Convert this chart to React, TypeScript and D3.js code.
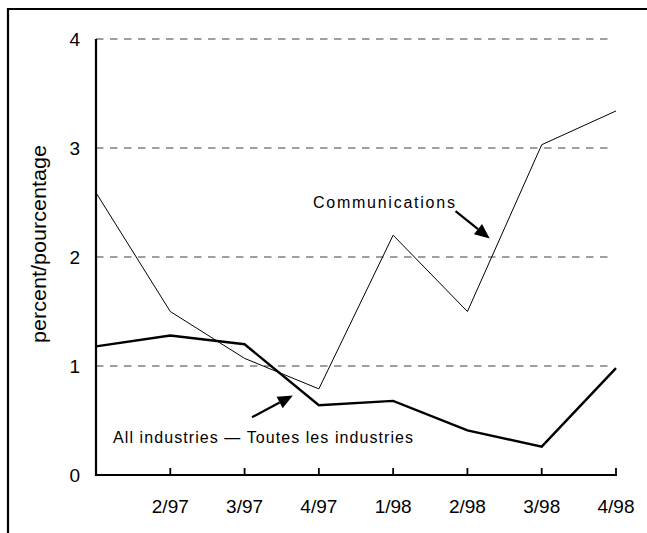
import React from "react";
import * as d3 from "d3";

const categories = ["1/97", "2/97", "3/97", "4/97", "1/98", "2/98", "3/98", "4/98"];
const tickLabels = ["", "2/97", "3/97", "4/97", "1/98", "2/98", "3/98", "4/98"];
const communications = [2.59, 1.5, 1.07, 0.79, 2.2, 1.5, 3.03, 3.34];
const allIndustries = [1.18, 1.28, 1.2, 0.64, 0.68, 0.41, 0.26, 0.98];
const yTicks = [0, 1, 2, 3, 4];
const gridValues = [1, 2, 3, 4];

// annotation anchors in data space: [fractional category index, value]
const commLabel = { text: "Communications", at: [2.92, 2.45] };
const commArrow = { from: [4.84, 2.42], to: [5.3, 2.17] };
const allLabel = { text: "All industries \u2014 Toutes les industries", at: [0.23, 0.29] };
const allArrow = { from: [2.1, 0.53], to: [2.65, 0.73] };

const W = 647;
const H = 533;
const X0 = 96;
const X1 = 616;
const Y0 = 475;
const Y4 = 39;
const FONT = "'Liberation Sans', Arial, sans-serif";

function Arrow({ x1, y1, x2, y2 }: { x1: number; y1: number; x2: number; y2: number }) {
  const ang = Math.atan2(y2 - y1, x2 - x1);
  const len = 15;
  const half = 6.5;
  const bx = x2 - len * Math.cos(ang);
  const by = y2 - len * Math.sin(ang);
  const px = -Math.sin(ang) * half;
  const py = Math.cos(ang) * half;
  return (
    <g>
      <line x1={x1} y1={y1} x2={bx} y2={by} stroke="#000" strokeWidth={2.2} />
      <polygon points={`${x2},${y2} ${bx + px},${by + py} ${bx - px},${by - py}`} fill="#000" />
    </g>
  );
}

export default function App() {
  const x = d3.scalePoint<string>().domain(categories).range([X0, X1]);
  const xi = d3.scaleLinear().domain([0, categories.length - 1]).range([X0, X1]);
  const y = d3.scaleLinear().domain([0, 4]).range([Y0, Y4]);

  const line = d3
    .line<number>()
    .x((_, i) => x(categories[i]) as number)
    .y((d) => y(d));

  return (
    <svg
      width={W}
      height={H}
      style={{ position: "absolute", left: 0, top: 0, background: "#fff" }}
      fontFamily={FONT}
    >
      <rect x={0} y={0} width={W} height={H} fill="#fff" />
      <path d={`M8,${H} V9 H${W}`} fill="none" stroke="#000" strokeWidth={2.2} />

      {gridValues.map((v) => (
        <line
          key={v}
          x1={X0}
          x2={612}
          y1={y(v)}
          y2={y(v)}
          stroke="#808080"
          strokeWidth={1.6}
          strokeDasharray="7.5,6.5"
        />
      ))}

      <path d={line(communications) || ""} fill="none" stroke="#000" strokeWidth={1} />
      <path d={line(allIndustries) || ""} fill="none" stroke="#000" strokeWidth={2.4} strokeLinejoin="miter" />

      <line x1={X0} x2={X0} y1={Y4} y2={Y0 + 1} stroke="#000" strokeWidth={2.2} />
      <line x1={X0} x2={X1 + 1} y1={Y0} y2={Y0} stroke="#000" strokeWidth={2.2} />
      {categories.slice(1).map((c) => (
        <line key={c} x1={x(c)} x2={x(c)} y1={Y0} y2={Y0 - 7} stroke="#000" strokeWidth={1.8} />
      ))}

      {yTicks.map((v) => (
        <text key={v} x={80} y={y(v)} dy="0.36em" textAnchor="end" fontSize={19}>
          {v}
        </text>
      ))}
      {categories.map((c, i) =>
        tickLabels[i] ? (
          <text key={c} x={x(c)} y={513} textAnchor="middle" fontSize={19}>
            {tickLabels[i]}
          </text>
        ) : null
      )}

      <text
        transform={`translate(46,${244}) rotate(-90)`}
        textAnchor="middle"
        fontSize={20}
        textLength={198}
        lengthAdjust="spacingAndGlyphs"
      >
        percent/pourcentage
      </text>

      <text
        x={xi(commLabel.at[0])}
        y={y(commLabel.at[1])}
        fontSize={16}
        textLength={142}
        lengthAdjust="spacing"
      >
        {commLabel.text}
      </text>
      <Arrow
        x1={xi(commArrow.from[0])}
        y1={y(commArrow.from[1])}
        x2={xi(commArrow.to[0])}
        y2={y(commArrow.to[1])}
      />
      <text
        x={xi(allLabel.at[0])}
        y={y(allLabel.at[1])}
        fontSize={16}
        textLength={300}
        lengthAdjust="spacing"
      >
        {allLabel.text}
      </text>
      <Arrow
        x1={xi(allArrow.from[0])}
        y1={y(allArrow.from[1])}
        x2={xi(allArrow.to[0])}
        y2={y(allArrow.to[1])}
      />
    </svg>
  );
}
